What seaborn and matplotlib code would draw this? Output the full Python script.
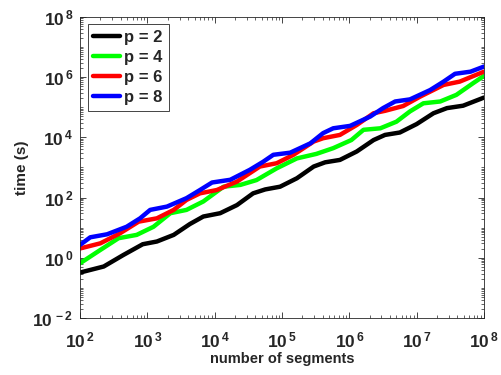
import numpy as np
import pandas as pd
import matplotlib
matplotlib.use("Agg")
import matplotlib.pyplot as plt
import seaborn as sns
from matplotlib.ticker import LogLocator, FixedLocator, NullFormatter, FuncFormatter

# valores (log10 de segmentos, log10 del tiempo)
x_p2 = [2.0, 2.35, 2.64, 2.93, 3.14, 3.39, 3.63, 3.83, 4.08, 4.33, 4.57, 4.75, 4.97, 5.22,
        5.47, 5.64, 5.86, 6.11, 6.36, 6.53, 6.75, 7.0, 7.25, 7.45, 7.69, 8.0]
y_p2 = [-0.49, -0.29, 0.09, 0.45, 0.54, 0.76, 1.12, 1.37, 1.48, 1.75, 2.14, 2.27, 2.36, 2.64,
        3.03, 3.17, 3.25, 3.53, 3.91, 4.08, 4.16, 4.44, 4.80, 4.97, 5.05, 5.32]

x_p4 = [2.0, 2.30, 2.57, 2.84, 3.09, 3.34, 3.58, 3.83, 4.13, 4.38, 4.62, 4.92, 5.22, 5.51,
        5.76, 6.03, 6.21, 6.46, 6.70, 6.90, 7.10, 7.35, 7.59, 7.84, 8.0]
y_p4 = [-0.18, 0.26, 0.65, 0.76, 1.03, 1.48, 1.59, 1.87, 2.36, 2.42, 2.58, 2.97, 3.30, 3.45,
        3.64, 3.91, 4.25, 4.30, 4.52, 4.86, 5.13, 5.19, 5.41, 5.80, 6.04]

x_p6 = [2.0, 2.30, 2.59, 2.87, 3.14, 3.39, 3.58, 3.78, 4.03, 4.33, 4.67, 4.92, 5.17, 5.47,
        5.61, 5.86, 6.11, 6.36, 6.53, 6.80, 7.05, 7.40, 7.64, 8.0]
y_p6 = [0.31, 0.48, 0.81, 1.20, 1.31, 1.59, 1.92, 2.14, 2.25, 2.53, 3.03, 3.14, 3.42, 3.86,
        3.97, 4.08, 4.41, 4.80, 4.88, 5.04, 5.35, 5.74, 5.85, 6.18]

x_p8 = [2.0, 2.15, 2.40, 2.69, 2.89, 3.04, 3.29, 3.58, 3.78, 3.96, 4.23, 4.52, 4.72, 4.87,
        5.12, 5.42, 5.61, 5.76, 6.01, 6.31, 6.50, 6.68, 6.90, 7.20, 7.40, 7.57, 7.80, 8.0]
y_p8 = [0.43, 0.68, 0.78, 1.03, 1.31, 1.59, 1.70, 1.98, 2.25, 2.50, 2.59, 2.92, 3.19, 3.42,
        3.49, 3.80, 4.14, 4.30, 4.38, 4.69, 4.97, 5.19, 5.26, 5.57, 5.85, 6.11, 6.18, 6.35]

etiquetas = ["p = 2", "p = 4", "p = 6", "p = 8"]
colores = ["black", "#00ff00", "red", "blue"]

filas = []
for etiqueta, xs, ys in zip(etiquetas, [x_p2, x_p4, x_p6, x_p8], [y_p2, y_p4, y_p6, y_p8]):
    for a, b in zip(xs, ys):
        filas.append({"segmentos": 10 ** a, "tiempo": 10 ** b, "p": etiqueta})
df = pd.DataFrame(filas)

sns.set_style("ticks")
plt.rcParams["font.family"] = ["Liberation Sans", "DejaVu Sans"]
plt.rcParams["font.weight"] = "bold"
plt.rcParams["mathtext.fontset"] = "custom"
plt.rcParams["mathtext.rm"] = "Liberation Sans:bold"
plt.rcParams["mathtext.it"] = "Liberation Sans:bold"
plt.rcParams["mathtext.bf"] = "Liberation Sans:bold"
plt.rcParams["mathtext.default"] = "rm"

gris = "#262626"
fig = plt.figure(figsize=(5.01, 3.75), dpi=100)
ax = fig.add_axes([0.16, 0.152, 0.806, 0.803])

sns.lineplot(data=df, x="segmentos", y="tiempo", hue="p", palette=colores,
             linewidth=3.2, sort=False, estimator=None, ax=ax)

ax.set_xscale("log")
ax.set_yscale("log")
ax.set_xlim(1e2, 1e8)
ax.set_ylim(1e-2, 1e8)

ax.xaxis.set_major_locator(FixedLocator([10.0 ** k for k in range(2, 9)]))
ax.yaxis.set_major_locator(FixedLocator([10.0 ** k for k in range(-2, 9, 2)]))
ax.xaxis.set_minor_locator(LogLocator(base=10, subs=np.arange(2, 10), numticks=50))
ax.yaxis.set_minor_locator(LogLocator(base=10, subs=np.arange(1, 10), numticks=50))
ax.xaxis.set_minor_formatter(NullFormatter())
ax.yaxis.set_minor_formatter(NullFormatter())
fmt = FuncFormatter(lambda v, pos: r"$10^{\,%d}$" % int(round(np.log10(v))))
ax.xaxis.set_major_formatter(fmt)
ax.yaxis.set_major_formatter(fmt)

ax.tick_params(which="both", direction="in", top=True, right=True, color=gris,
               labelcolor=gris, labelsize=12.5)
ax.tick_params(which="major", length=4, width=0.6)
ax.tick_params(which="minor", length=2.2, width=0.5)
ax.tick_params(axis="x", pad=9)
ax.tick_params(axis="y", pad=5)
for s in ax.spines.values():
    s.set_color(gris)
    s.set_linewidth(0.6)

ax.set_xlabel("number of segments", fontsize=10.5, fontweight="bold", color=gris, labelpad=1)
ax.set_ylabel("time (s)", fontsize=11, fontweight="bold", color=gris, labelpad=2)

leg = ax.legend(loc="upper left", fontsize=12, frameon=True, fancybox=False,
                handlelength=1.6, handletextpad=0.25, borderpad=0.35, labelspacing=0.3,
                borderaxespad=0.45)
leg.get_frame().set_edgecolor(gris)
leg.get_frame().set_linewidth(0.6)
leg.get_frame().set_alpha(1)
for t in leg.get_texts():
    t.set_fontweight("bold")

fig.savefig("out.png", dpi=100)
